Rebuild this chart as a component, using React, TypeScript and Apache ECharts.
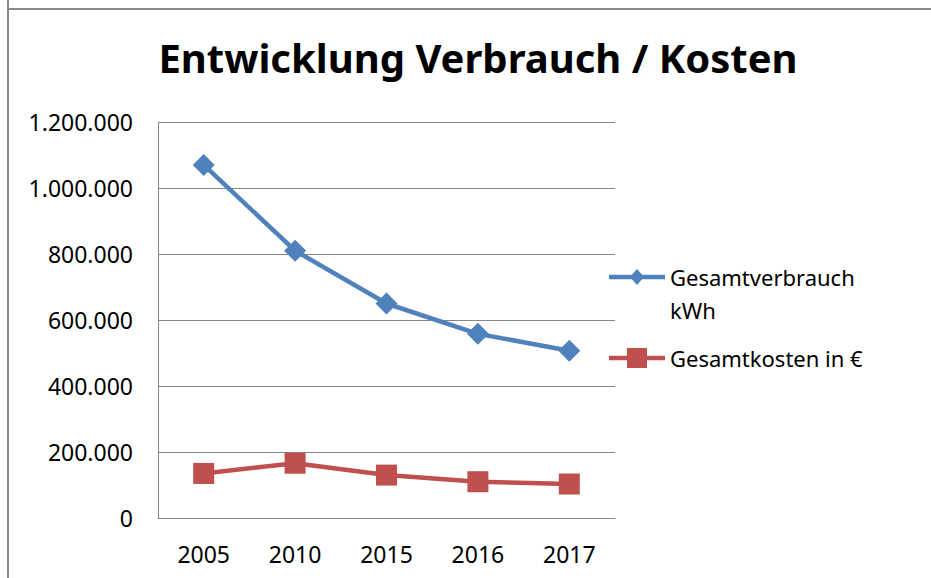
import React, { useEffect, useRef } from "react";
import * as echarts from "echarts";

const years = ["2005", "2010", "2015", "2016", "2017"];
const verbrauchKWh = [1070000, 810000, 650000, 558000, 507000];
const kostenEuro = [135000, 166000, 130000, 110000, 103000];
const yTicks = { min: 0, max: 1200000, interval: 200000 };
const seriesNames = ["Gesamtverbrauch kWh", "Gesamtkosten in €"];
const legendLines = [["Gesamtverbrauch", "kWh"], ["Gesamtkosten in €"]];
const titleText = "Entwicklung Verbrauch / Kosten";

const BLUE = "#4F81BD";
const RED = "#C0504D";
const FONT = "'Noto Sans', 'DejaVu Sans', sans-serif";

function fmtDE(v: number): string {
  return String(Math.round(v)).replace(/\B(?=(\d{3})+(?!\d))/g, ".");
}

export default function App() {
  const ref = useRef<HTMLDivElement>(null);
  useEffect(() => {
    document.body.style.margin = "0";
    const chart = echarts.init(ref.current!, null, { renderer: "svg" });
    const lx = 609;
    const lw = 56;
    const ly1 = 277;
    const ly2 = 358;
    chart.setOption({
      animation: false,
      backgroundColor: "#ffffff",
      title: {
        text: titleText,
        left: 473,
        top: 32,
        textAlign: "center",
        textStyle: { fontFamily: FONT, fontWeight: "bold", fontSize: 40, color: "#000000" },
      },
      grid: { left: 158, right: 316, top: 122, bottom: 60, containLabel: false },
      xAxis: {
        type: "category",
        data: years,
        boundaryGap: true,
        axisLine: { show: true, lineStyle: { color: "#868686", width: 1 } },
        axisTick: { show: false },
        axisLabel: { margin: 24, fontFamily: FONT, fontSize: 23, color: "#000000" },
      },
      yAxis: {
        type: "value",
        min: yTicks.min,
        max: yTicks.max,
        interval: yTicks.interval,
        axisLine: { show: true, lineStyle: { color: "#868686", width: 1 } },
        axisTick: { show: false },
        splitLine: { show: true, lineStyle: { color: "#868686", width: 1 } },
        axisLabel: {
          margin: 25,
          fontFamily: FONT,
          fontSize: 23,
          color: "#000000",
          formatter: (v: number) => fmtDE(v),
        },
      },
      series: [
        {
          name: seriesNames[0],
          type: "line",
          data: verbrauchKWh,
          symbol: "diamond",
          symbolSize: 22,
          lineStyle: { color: BLUE, width: 4.5 },
          itemStyle: { color: BLUE },
        },
        {
          name: seriesNames[1],
          type: "line",
          data: kostenEuro,
          symbol: "rect",
          symbolSize: 21,
          lineStyle: { color: RED, width: 4.5 },
          itemStyle: { color: RED },
        },
      ],
      graphic: [
        { type: "line", shape: { x1: 8, y1: 0, x2: 8, y2: 578 }, style: { stroke: "#898989", lineWidth: 2 } },
        { type: "line", shape: { x1: 8, y1: 9, x2: 931, y2: 9 }, style: { stroke: "#898989", lineWidth: 2 } },
        { type: "line", shape: { x1: lx, y1: ly1, x2: lx + lw, y2: ly1 }, style: { stroke: BLUE, lineWidth: 4.5 } },
        {
          type: "polygon",
          shape: { points: [[lx + lw / 2, ly1 - 8], [lx + lw / 2 + 7, ly1], [lx + lw / 2, ly1 + 8], [lx + lw / 2 - 7, ly1]] },
          style: { fill: BLUE },
        },
        {
          type: "text",
          left: 670,
          top: ly1 - 17,
          style: {
            text: legendLines[0].join("\n"),
            fontFamily: FONT,
            fontSize: 22,
            lineHeight: 33,
            fill: "#000000",
          },
        },
        { type: "line", shape: { x1: lx, y1: ly2, x2: lx + lw, y2: ly2 }, style: { stroke: RED, lineWidth: 4.5 } },
        { type: "rect", shape: { x: lx + lw / 2 - 10, y: ly2 - 10, width: 20, height: 20 }, style: { fill: RED } },
        {
          type: "text",
          left: 670,
          top: ly2 - 17,
          style: {
            text: legendLines[1].join("\n"),
            fontFamily: FONT,
            fontSize: 22,
            lineHeight: 33,
            fill: "#000000",
          },
        },
      ],
    });
    return () => chart.dispose();
  }, []);
  return <div ref={ref} style={{ width: 931, height: 578 }} />;
}
